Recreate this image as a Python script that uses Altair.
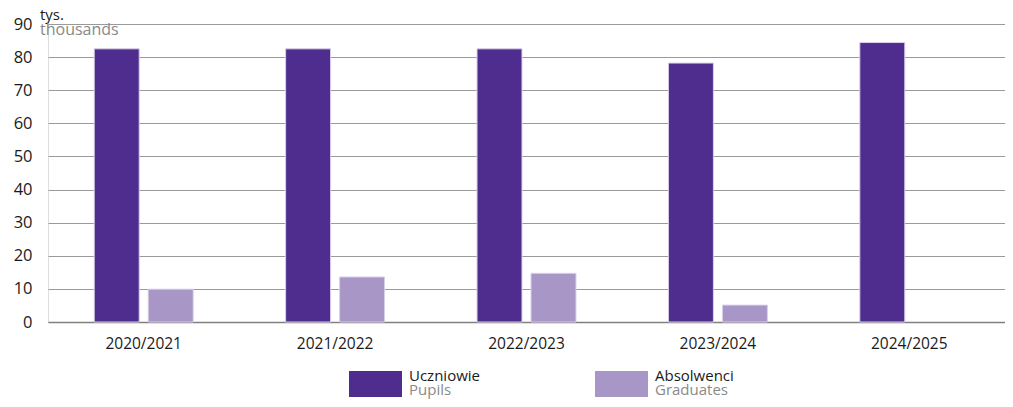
import altair as alt
import pandas as pd

years = ["2020/2021", "2021/2022", "2022/2023", "2023/2024", "2024/2025"]
pupils = [82.5, 82.5, 82.5, 78.2, 84.4]
graduates = [9.9, 13.6, 14.7, 5.1, None]
series_pl = ["Uczniowie", "Absolwenci"]
series_en = ["Pupils", "Graduates"]
colors = ["#4F2D8F", "#A897C6"]

rows = []
for i, y in enumerate(years):
    rows.append({"year": y, "series": series_pl[0], "value": pupils[i]})
    if graduates[i] is not None:
        rows.append({"year": y, "series": series_pl[1], "value": graduates[i]})
df = pd.DataFrame(rows)

FONT = "Open Sans"
W, H = 957, 298

bars = alt.Chart(df).mark_bar(stroke="#d8cfea", strokeWidth=1).encode(
    x=alt.X("year:N", sort=years, title=None,
            scale=alt.Scale(paddingInner=0.436, paddingOuter=0.218),
            axis=alt.Axis(labelAngle=0, labelFontSize=15.5, labelColor="#1a1a1a",
                          labelFont=FONT, ticks=False, domainColor="#808080",
                          domainWidth=1.5, labelPadding=14)),
    xOffset=alt.XOffset("series:N", sort=series_pl,
                        scale=alt.Scale(paddingInner=0.167, paddingOuter=0.0833)),
    y=alt.Y("value:Q", title=None,
            scale=alt.Scale(domain=[0, 90]),
            axis=alt.Axis(values=list(range(0, 100, 10)), labelFontSize=16.5,
                          labelColor="#1a1a1a", labelFont=FONT, ticks=False,
                          domain=False, gridColor="#9a9a9a", gridWidth=1,
                          labelPadding=16)),
    color=alt.Color("series:N", sort=series_pl,
                    scale=alt.Scale(domain=series_pl, range=colors), legend=None),
)

unit_pl = alt.Chart(pd.DataFrame({"t": ["tys."]})).mark_text(
    align="left", baseline="alphabetic", fontSize=15, font=FONT, color="#1a1a1a"
).encode(text="t:N", x=alt.value(-8), y=alt.value(-4))
unit_en = alt.Chart(pd.DataFrame({"t": ["thousands"]})).mark_text(
    align="left", baseline="alphabetic", fontSize=16, font=FONT, color="#8a8a8a"
).encode(text="t:N", x=alt.value(-8), y=alt.value(11))

legend_layers = []
leg_x = [301, 547]
for i in range(2):
    sw = alt.Chart(pd.DataFrame({"s": [series_pl[i]]})).mark_rect(color=colors[i]).encode(
        x=alt.value(leg_x[i]), x2=alt.value(leg_x[i] + 53),
        y=alt.value(347), y2=alt.value(373))
    t1 = alt.Chart(pd.DataFrame({"t": [series_pl[i]]})).mark_text(
        align="left", baseline="alphabetic", fontSize=15, font=FONT, color="#1a1a1a"
    ).encode(text="t:N", x=alt.value(leg_x[i] + 60), y=alt.value(357))
    t2 = alt.Chart(pd.DataFrame({"t": [series_en[i]]})).mark_text(
        align="left", baseline="alphabetic", fontSize=15, font=FONT, color="#8a8a8a"
    ).encode(text="t:N", x=alt.value(leg_x[i] + 60), y=alt.value(371))
    legend_layers += [sw, t1, t2]

chart = alt.layer(bars, unit_pl, unit_en, *legend_layers).properties(
    width=W, height=H,
    autosize=alt.AutoSizeParams(type="none"),
    padding={"left": 40, "top": 16, "right": 0, "bottom": 77},
).configure_view(stroke=None).configure(background="white")

chart.save("out.html", embed_options={"renderer": "svg", "actions": False})
